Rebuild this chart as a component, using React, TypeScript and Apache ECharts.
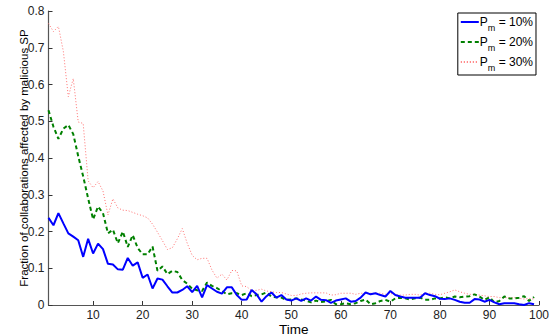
import React, { useEffect, useRef } from "react";
import * as echarts from "echarts";

const timeSteps: number[] = Array.from({ length: 99 }, (_, i) => i + 1);

const pm10: number[] = [
  0.237, 0.217, 0.25, 0.222, 0.195, 0.186, 0.176, 0.131, 0.18, 0.14,
  0.167, 0.152, 0.112, 0.11, 0.097, 0.096, 0.128, 0.107, 0.116, 0.074,
  0.083, 0.045, 0.072, 0.069, 0.051, 0.034, 0.034, 0.041, 0.051, 0.035,
  0.052, 0.021, 0.054, 0.045, 0.036, 0.031, 0.048, 0.048, 0.027, 0.014,
  0.015, 0.041, 0.029, 0.009, 0.024, 0.034, 0.02, 0.027, 0.015, 0.012,
  0.018, 0.011, 0.018, 0.012, 0.023, 0.014, 0.013, 0.006, 0.012, 0.015,
  0.018, 0.009, 0.011, 0.02, 0.034, 0.029, 0.032, 0.027, 0.023, 0.038,
  0.027, 0.023, 0.02, 0.02, 0.02, 0.02, 0.032, 0.027, 0.024, 0.017,
  0.016, 0.018, 0.014, 0.009, 0.006, 0.006, 0.016, 0.015, 0.009, 0.014,
  0.007, 0.002, 0.005, 0.005, 0.005, 0.002, 0.0, 0.005, 0.002,
];

const pm20: number[] = [
  0.53, 0.485, 0.452, 0.48, 0.49, 0.465, 0.405, 0.35, 0.29, 0.233,
  0.268, 0.25, 0.195, 0.205, 0.168, 0.2, 0.158, 0.19, 0.155, 0.138,
  0.138, 0.159, 0.093, 0.105, 0.084, 0.093, 0.09, 0.068, 0.058, 0.044,
  0.04, 0.038, 0.061, 0.052, 0.046, 0.038, 0.029, 0.032, 0.032, 0.027,
  0.032, 0.024, 0.027, 0.029, 0.034, 0.023, 0.021, 0.02, 0.014, 0.015,
  0.018, 0.015, 0.012, 0.007, 0.012, 0.008, 0.01, 0.014, 0.002, 0.002,
  0.005, 0.002, 0.005, 0.011, 0.015, 0.002, 0.005, 0.011, 0.014, 0.009,
  0.018, 0.02, 0.018, 0.015, 0.018, 0.02, 0.014, 0.014, 0.018, 0.018,
  0.021, 0.018, 0.023, 0.021, 0.023, 0.024, 0.029, 0.023, 0.014, 0.021,
  0.007, 0.011, 0.023, 0.018, 0.018, 0.02, 0.024, 0.011, 0.022,
];

const pm30: number[] = [
  0.766, 0.744, 0.758, 0.69, 0.567, 0.616, 0.498, 0.494, 0.338, 0.319,
  0.336, 0.31, 0.245, 0.289, 0.264, 0.258, 0.257, 0.252, 0.247, 0.243,
  0.237, 0.22, 0.198, 0.175, 0.151, 0.156, 0.18, 0.208, 0.168, 0.135,
  0.123, 0.127, 0.127, 0.095, 0.073, 0.084, 0.068, 0.094, 0.093, 0.052,
  0.05, 0.039, 0.04, 0.043, 0.038, 0.036, 0.034, 0.034, 0.03, 0.026,
  0.026, 0.03, 0.032, 0.033, 0.033, 0.033, 0.033, 0.027, 0.028, 0.032,
  0.032, 0.032, 0.029, 0.032, 0.032, 0.032, 0.032, 0.032, 0.029, 0.032,
  0.027, 0.027, 0.027, 0.029, 0.029, 0.027, 0.032, 0.032, 0.029, 0.028,
  0.032, 0.036, 0.041, 0.036, 0.032, 0.029, 0.029, 0.027, 0.025, 0.023,
  0.023, 0.02, 0.02, 0.02, 0.02, 0.018, 0.016, 0.018, 0.016,
];

const xTicks: number[] = [10, 20, 30, 40, 50, 60, 70, 80, 90, 100];
const seriesNames: string[] = ["Pm = 10%", "Pm = 20%", "Pm = 30%"];
const legendPercents: string[] = ["10%", "20%", "30%"];

const FONT = "Liberation Sans, Arial, Helvetica, sans-serif";

export default function App() {
  const ref = useRef<HTMLDivElement>(null);
  useEffect(() => {
    if (!ref.current) return;
    const chart = echarts.init(ref.current, undefined, { renderer: "svg" });
    const pair = (vals: number[]) => vals.map((v, i) => [timeSteps[i], v]);
    chart.setOption({
      animation: false,
      backgroundColor: "#ffffff",
      textStyle: { fontFamily: FONT },
      grid: {
        left: 48.5,
        right: 14,
        top: 11,
        bottom: 30,
        containLabel: false,
        outerBoundsMode: "none",
      },
      legend: {
        orient: "vertical",
        right: 17,
        top: 13,
        icon: "inherit",
        backgroundColor: "#ffffff",
        borderColor: "#000000",
        borderWidth: 1,
        borderRadius: 0,
        padding: [3, 3, 3, 2],
        itemWidth: 18,
        itemHeight: 10,
        itemGap: 4,
        itemStyle: { color: "rgba(0,0,0,0)", borderColor: "rgba(0,0,0,0)", borderWidth: 0, opacity: 0 },
        data: seriesNames,
        formatter: (name: string) => {
          const idx = seriesNames.indexOf(name);
          return `{a|P}{s|m}{a| = ${legendPercents[idx]}}`;
        },
        textStyle: {
          color: "#000000",
          fontFamily: FONT,
          padding: [0, 0, 0, -4],
          rich: {
            a: { fontSize: 12, lineHeight: 20, verticalAlign: "middle", color: "#000", fontFamily: FONT },
            s: { fontSize: 9, lineHeight: 20, verticalAlign: "bottom", color: "#000", fontFamily: FONT },
          },
        },
      },
      xAxis: {
        type: "value",
        min: 1,
        max: 100,
        name: "Time",
        nameLocation: "middle",
        nameGap: 18,
        nameMoveOverlap: false,
        nameTextStyle: { fontSize: 13.5, lineHeight: 12, color: "#000", fontFamily: FONT, verticalAlign: "top" },
        axisLine: { show: true, lineStyle: { color: "#555555", width: 1.2 } },
        axisTick: { show: true, inside: true, length: 4, customValues: xTicks, lineStyle: { color: "#333333" } },
        axisLabel: { customValues: xTicks, fontSize: 12, lineHeight: 10, color: "#222", margin: 5, fontFamily: FONT },
        splitLine: { show: false },
      },
      yAxis: {
        type: "value",
        min: 0,
        max: 0.8,
        interval: 0.1,
        name: "Fraction of collaborations affected by malicious SP",
        nameLocation: "middle",
        nameGap: 25,
        nameMoveOverlap: false,
        nameTextStyle: { fontSize: 11.5, color: "#000", fontFamily: FONT, verticalAlign: "middle" },
        axisLine: { show: true, lineStyle: { color: "#555555", width: 1.2 } },
        axisTick: { show: true, inside: true, length: 4, lineStyle: { color: "#333333" } },
        axisLabel: {
          fontSize: 12,
          color: "#222",
          margin: 4,
          fontFamily: FONT,
          formatter: (v: number) => (v === 0 ? "0" : String(Math.round(v * 10) / 10)),
        },
        splitLine: { show: false },
      },
      series: [
        {
          name: seriesNames[0],
          type: "line",
          data: pair(pm10),
          showSymbol: false,
          symbol: "none",
          color: "#0000ff",
          lineStyle: { color: "#0000ff", width: 2, type: "solid" },
          z: 4,
        },
        {
          name: seriesNames[1],
          type: "line",
          data: pair(pm20),
          showSymbol: false,
          symbol: "none",
          color: "#008000",
          lineStyle: { color: "#008000", width: 2, type: [4, 3] },
          z: 3,
        },
        {
          name: seriesNames[2],
          type: "line",
          data: pair(pm30),
          showSymbol: false,
          symbol: "none",
          color: "#ff7070",
          lineStyle: { color: "#ff7070", width: 1, type: [1, 2] },
          z: 2,
        },
      ],
    });
    return () => chart.dispose();
  }, []);
  return (
    <div
      ref={ref}
      style={{ position: "fixed", left: 0, top: 0, width: 553, height: 335 }}
    />
  );
}
